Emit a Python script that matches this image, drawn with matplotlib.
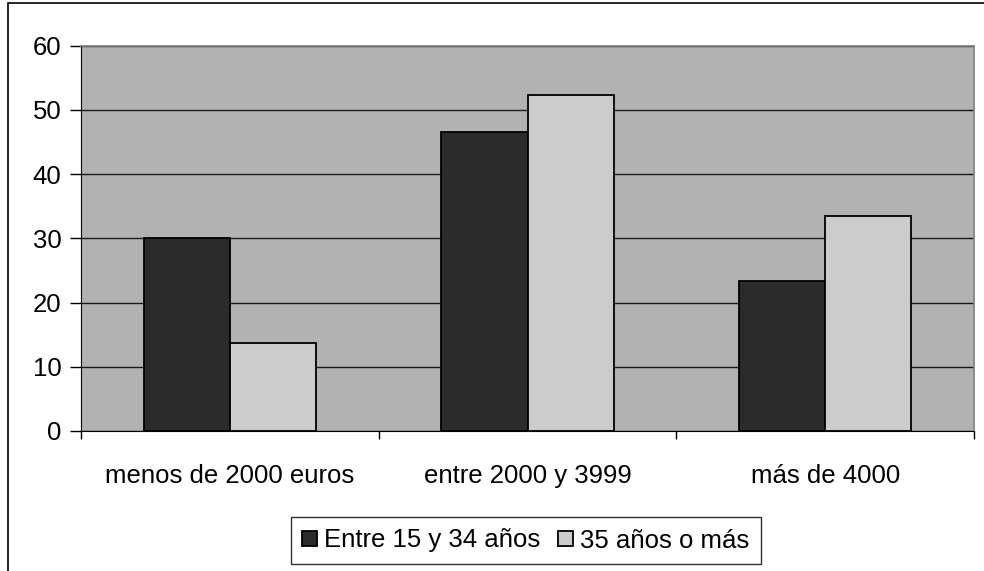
import matplotlib
matplotlib.use("Agg")
import matplotlib.pyplot as plt
from matplotlib.patches import Rectangle
import numpy as np

categories = ["menos de 2000 euros", "entre 2000 y 3999", "más de 4000"]
series_names = ["Entre 15 y 34 años", "35 años o más"]
young = [30.0, 46.6, 23.4]
older = [13.7, 52.3, 33.5]
y_ticks = [0, 10, 20, 30, 40, 50, 60]

plt.rcParams["font.family"] = ["Liberation Sans", "DejaVu Sans"]

W, H = 984, 571
FS = 18.5
fig = plt.figure(figsize=(W / 100, H / 100), dpi=100)

# outer chart frame (extends beyond the right/bottom edges)
fig.patches.append(Rectangle((8 / W, -0.1), 1.2, 1 - 2.5 / H + 0.1,
                             transform=fig.transFigure, fill=False,
                             edgecolor="black", linewidth=1.2))

left, right, top, bottom = 81, 974, 45.5, 431
ax = fig.add_axes([left / W, 1 - bottom / H, (right - left) / W, (bottom - top) / H])
ax.set_facecolor("#b2b2b2")

x = np.arange(len(categories))
bw = 0.29
ax.bar(x - bw / 2, young, bw, color="#2b2b2b", edgecolor="black", linewidth=1.3,
       label=series_names[0], zorder=3)
ax.bar(x + bw / 2, older, bw, color="#cccccc", edgecolor="black", linewidth=1.3,
       label=series_names[1], zorder=3)

ax.set_xlim(-0.5, len(categories) - 0.5)
ax.set_ylim(0, 60)
ax.set_yticks(y_ticks)
ax.yaxis.grid(True, color="#1a1a1a", linewidth=1.0, zorder=1)
ax.set_axisbelow(True)

# category boundaries as minor ticks, labels centered on groups
ax.set_xticks(x)
ax.set_xticklabels(categories, fontsize=FS)
ax.tick_params(axis="x", which="major", length=0, pad=24)
ax.set_xticks(np.arange(len(categories) + 1) - 0.5, minor=True)
ax.tick_params(axis="x", which="minor", length=6, width=1, color="black", direction="out")
ax.tick_params(axis="y", length=8, width=1, direction="out", labelsize=FS, pad=6)

for side in ("top", "right"):
    ax.spines[side].set_color("#808080")
    ax.spines[side].set_linewidth(1.2)
ax.spines["left"].set_color("black")
ax.spines["bottom"].set_color("black")

leg = fig.legend(loc="center", bbox_to_anchor=(526 / W, 1 - 540.5 / H),
                 ncol=2, fontsize=FS, frameon=True, fancybox=False,
                 edgecolor="black", handlelength=0.55, handleheight=0.55,
                 handletextpad=0.3, columnspacing=0.7, borderpad=0.45,
                 borderaxespad=0)
leg.get_frame().set_linewidth(1.0)

fig.savefig("out.png", dpi=100, facecolor="white")
